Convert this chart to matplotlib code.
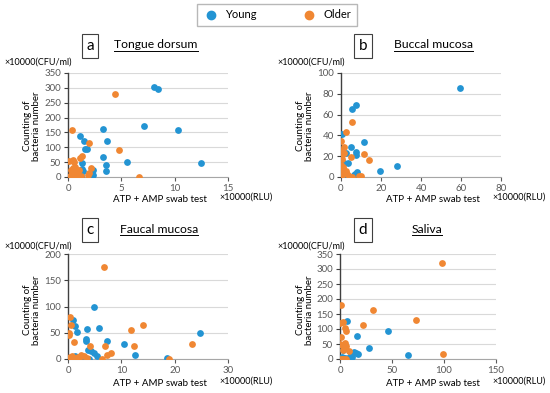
import numpy as np
import matplotlib
matplotlib.use('Agg')
from matplotlib import pyplot as plt
from matplotlib.lines import Line2D

plt.rcParams['font.family'] = ['Lato', 'DejaVu Sans']

BLUE = '#2394D3'
ORANGE = '#F08733'

# ---- a: Tongue dorsum ----
a_young_x = [8.1, 8.4, 7.1, 10.3, 12.5, 5.5, 3.3, 3.7, 3.3, 3.6, 3.6, 1.6, 1.8, 1.5, 1.1, 1.3, 1.3, 1.4, 2.3, 2.3, 1.2]
a_young_y = [302, 297, 172, 157, 47, 52, 163, 120, 68, 40, 21, 95, 93, 121, 139, 47, 27, 21, 25, 7, 5]
a_old_x = [0.1, 0.5, 0.6, 0.35, 1.1, 1.3, 2.0, 4.4, 4.8, 6.7, 2.2, 2.0, 1.9, 0.3, 0.5, 0.6, 0.8, 0.4, 0.7, 1.0, 0.2, 1.2, 0.9, 0.5]
a_old_y = [55, 58, 52, 157, 65, 70, 113, 280, 91, 0, 30, 12, 6, 25, 30, 18, 10, 12, 35, 22, 5, 3, 1, 2]

# ---- b: Buccal mucosa ----
b_young_x = [59.7, 5.7, 7.3, 11.7, 5.0, 0.3, 2.5, 7.3, 7.3, 19.7, 28.0, 1.7, 3.3, 8.0, 7.0, 6.3, 1.0, 2.0, 3.5, 0.5]
b_young_y = [86, 65, 69, 34, 29, 41, 23, 24, 21, 6, 11, 13, 13, 5, 3, 2, 3, 1, 1, 6]
b_old_x = [5.7, 2.5, 0.0, 1.5, 4.8, 11.5, 14.2, 0.0, 0.3, 0.3, 1.7, 0.0, 1.0, 2.0, 0.5, 9.0, 10.0, 3.0, 4.0, 1.2, 0.2, 2.5, 5.5]
b_old_y = [53, 43, 35, 29, 19, 22, 16, 25, 21, 17, 23, 8, 8, 4, 2, 1, 1, 3, 1, 10, 12, 6, 0]

# ---- c: Faucal mucosa ----
c_young_x = [4.8, 5.8, 3.6, 0.9, 1.3, 1.7, 3.4, 3.4, 7.3, 10.5, 12.5, 24.7, 18.6, 3.7, 4.4, 4.8, 5.4, 1.4, 2.6, 4.0]
c_young_y = [99, 59, 57, 74, 62, 52, 38, 34, 34, 29, 8, 50, 2, 18, 15, 12, 5, 6, 0.5, 0.5]
c_old_x = [6.8, 0.3, 0.6, 0.1, 0.1, 1.1, 14.0, 11.8, 12.4, 23.3, 6.9, 8.1, 7.3, 4.1, 18.9, 6.3, 0.3, 0.8, 1.3, 1.8, 2.5, 3.0, 3.5, 2.0, 1.0]
c_old_y = [176, 80, 64, 50, 46, 32, 64, 55, 24, 28, 24, 11, 8, 24, 0.5, 0, 3, 5, 2, 4, 7, 5, 2, 1, 0.5]

# ---- d: Saliva ----
d_young_x = [6.4, 16.7, 45.8, 27.9, 65.7, 13.8, 15.7, 17.0, 10.6, 2.9, 1.6, 8.0, 11.0, 5.0, 12.0, 9.0]
d_young_y = [128, 76, 93, 37, 13, 25, 20, 16, 18, 31, 7, 5, 2, 3, 8, 0]
d_old_x = [98.4, 31.4, 72.8, 22.1, 98.7, 1.3, 0.0, 3.2, 4.5, 5.8, 1.3, 0.0, 1.6, 4.5, 5.8, 9.0, 0.0, 1.6, 3.8, 5.8, 3.2]
d_old_y = [321, 163, 130, 114, 16, 180, 119, 125, 105, 93, 72, 51, 48, 54, 42, 26, 1, 1, 1, 1, 29]

panels = [
    ('a', 'Tongue dorsum', a_young_x, a_young_y, a_old_x, a_old_y, [0, 5, 10, 15], [0, 50, 100, 150, 200, 250, 300, 350]),
    ('b', 'Buccal mucosa', b_young_x, b_young_y, b_old_x, b_old_y, [0, 20, 40, 60, 80], [0, 20, 40, 60, 80, 100]),
    ('c', 'Faucal mucosa', c_young_x, c_young_y, c_old_x, c_old_y, [0, 10, 20, 30], [0, 50, 100, 150, 200]),
    ('d', 'Saliva', d_young_x, d_young_y, d_old_x, d_old_y, [0, 50, 100, 150], [0, 50, 100, 150, 200, 250, 300, 350]),
]

W, H = 550, 393
# axes rect in pixels (left, top, right, bottom)
rects = [(68, 73, 228, 177), (341, 73, 501, 177), (68, 254, 228, 359), (340, 254, 496, 359)]
# x offsets of annotation per column, y offsets per row
col_off = [0, 273]
row_off = [0, 184]

fig = plt.figure(figsize=(W / 100, H / 100), dpi=100)

def fx(px):
    return px / W

def fy(py):
    return 1 - py / H

underlines = []
for i, (lab, title, yx, yy, ox, oy, xt, yt) in enumerate(panels):
    l, t, r, b = rects[i]
    ax = fig.add_axes([fx(l), fy(b), (r - l) / W, (b - t) / H])
    ax.scatter(yx, yy, s=24, color=BLUE, zorder=3, linewidths=0)
    ax.scatter(ox, oy, s=24, color=ORANGE, zorder=3, linewidths=0)
    ax.set_xlim(xt[0], xt[-1])
    ax.set_ylim(yt[0], yt[-1])
    ax.set_xticks(xt)
    ax.set_yticks(yt)
    ax.tick_params(labelsize=7, colors='#595959', length=3, width=0.8, pad=2)
    ax.tick_params(axis='y', color='#404040')
    ax.grid(axis='y', color='#D9D9D9', linewidth=0.8, zorder=0)
    ax.set_axisbelow(True)
    for s in ['top', 'right']:
        ax.spines[s].set_visible(False)
    ax.spines['left'].set_color('#404040')
    ax.spines['bottom'].set_color('#A6A6A6')
    ax.spines['left'].set_linewidth(1.0)
    ax.spines['bottom'].set_linewidth(0.8)

    co = col_off[i % 2]
    ro = row_off[i // 2]
    # panel letter box
    fig.text(fx(90 + co), fy(46 + ro), lab, ha='center', va='center', fontsize=11,
             bbox=dict(boxstyle='square,pad=0.3', facecolor='white', edgecolor='#404040', linewidth=0.8))
    tcx = [156, 433, 159, 427][i]
    ttl = fig.text(fx(tcx), fy(45 + ro), title, ha='center', va='center', fontsize=8.7)
    underlines.append(ttl)
    fig.text(fx(4 + co), fy(62 + ro), '×10000(CFU/ml)', ha='left', va='center', fontsize=6.5)
    fig.text(fx(32 + co), fy(126 + ro), 'Counting of\nbacteria number', ha='center', va='center',
             rotation=90, fontsize=7, linespacing=1.0)
    fig.text(fx(160 + co), fy(200 + ro), 'ATP + AMP swab test', ha='center', va='center', fontsize=7)
    fig.text(fx(219 + co), fy(197 + ro), '×10000(RLU)', ha='left', va='center', fontsize=6.5)

# underline titles
fig.canvas.draw()
rend = fig.canvas.get_renderer()
for ttl in underlines:
    bb = ttl.get_window_extent(rend)
    yline = bb.y0 - 0.3
    fig.add_artist(Line2D([bb.x0 / W, bb.x1 / W], [yline / H, yline / H], color='black', linewidth=0.7))

handles = [Line2D([], [], marker='o', linestyle='', color=BLUE, markersize=6),
           Line2D([], [], marker='o', linestyle='', color=ORANGE, markersize=6)]
leg = fig.legend(handles, ['Young', 'Older'], loc='center', bbox_to_anchor=(fx(277), fy(15)), ncol=2,
                 frameon=True, fancybox=False, fontsize=8, columnspacing=4.0, handletextpad=0.5,
                 borderpad=0.5, handlelength=1.5)
leg.get_frame().set_edgecolor('#A6A6A6')
leg.get_frame().set_linewidth(1.0)

fig.savefig('out.png', dpi=100)
